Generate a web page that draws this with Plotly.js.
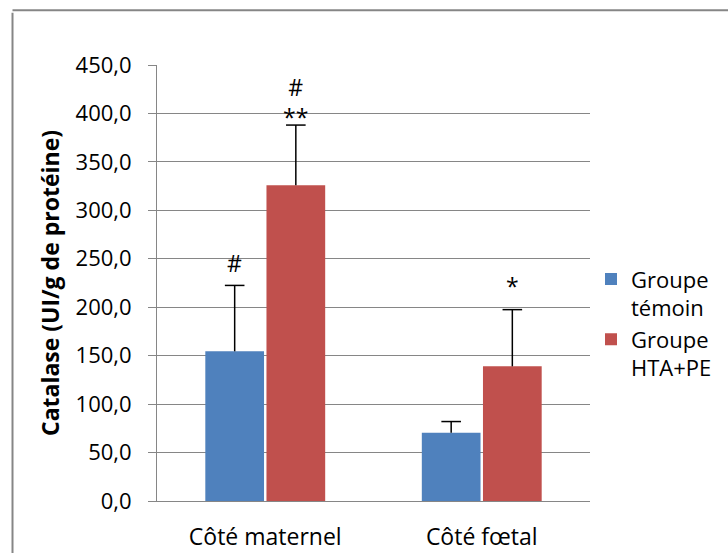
<!DOCTYPE html>
<html>
<head>
<meta charset="utf-8">
<script src="https://cdn.plot.ly/plotly-3.0.1.min.js"></script>
<style>
html,body{margin:0;padding:0;background:#fff;}
#chart{width:728px;height:553px;}
</style>
</head>
<body>
<div id="chart"></div>
<script>
const categories = ["Côté maternel", "Côté fœtal"];
const seriesNames = ["Groupe<br>témoin", "Groupe<br>HTA+PE"];
const temoinValues = [154.5, 70.5];
const temoinErrors = [68.0, 11.5];
const htaValues = [326.0, 139.0];
const htaErrors = [62.0, 58.5];
const yTicks = [0, 50, 100, 150, 200, 250, 300, 350, 400, 450];
const yTickLabels = ["0,0", "50,0", "100,0", "150,0", "200,0", "250,0", "300,0", "350,0", "400,0", "450,0"];
// significance marks: category index, series index, label, y value
const markCategory = [0, 0, 1];
const markSeries = [0, 1, 1];
const markText = ["#", "#<br>**", "*"];
const markY = [246, 412, 222];

const font = "Open Sans, sans-serif";
const blue = "#4f81bd";
const red = "#c0504d";
const bargap = 0.435;
const offset = (1 - bargap) / 4;

// error bars (upper only) drawn on an overlaid numeric axis matching category positions
function errorTrace(values, errors, sign) {
  const xs = [], ys = [], capX = [], capY = [];
  values.forEach((v, i) => {
    const xc = i + sign * offset;
    xs.push(xc, xc, null);
    ys.push(v, v + errors[i], null);
    capX.push(xc);
    capY.push(v + errors[i]);
  });
  return [
    {type: "scatter", mode: "lines", x: xs, y: ys, xaxis: "x2", yaxis: "y", showlegend: false, hoverinfo: "skip",
     line: {color: "#000", width: 1.5}},
    {type: "scatter", mode: "markers", x: capX, y: capY, xaxis: "x2", yaxis: "y", showlegend: false, hoverinfo: "skip",
     marker: {symbol: "line-ew", size: 14, line: {color: "#000", width: 1.5}}}
  ];
}

const traces = [
  {type: "bar", name: seriesNames[0], x: categories, y: temoinValues, marker: {color: blue}},
  {type: "bar", name: seriesNames[1], x: categories, y: htaValues, marker: {color: red}},
  ...errorTrace(temoinValues, temoinErrors, -1),
  ...errorTrace(htaValues, htaErrors, 1)
];

const annotations = markText.map((t, i) => ({
  xref: "x2", yref: "y",
  x: markCategory[i] + (markSeries[i] === 0 ? -offset : offset),
  y: markY[i], text: t, showarrow: false,
  font: {family: font, size: 23, color: "#000"}
}));

const layout = {
  width: 728, height: 553,
  paper_bgcolor: "#fff", plot_bgcolor: "#fff",
  margin: {l: 157, r: 137, t: 65, b: 52},
  barmode: "group", bargap: bargap, bargroupgap: 0.04,
  showlegend: true,
  legend: {
    x: 1.0, y: 0.557, xanchor: "left", yanchor: "top",
    font: {family: font, size: 22, color: "#000"},
    valign: "top", tracegroupgap: 4, itemwidth: 30
  },
  xaxis: {
    type: "category", showgrid: false, showline: true, linecolor: "#868686", linewidth: 1,
    ticks: "", tickfont: {family: font, size: 23, color: "#000"}, ticklabelstandoff: 15
  },
  xaxis2: {
    overlaying: "x", range: [-0.5, 1.5], visible: false, fixedrange: true
  },
  yaxis: {
    range: [0, 450], tickvals: yTicks, ticktext: yTickLabels,
    showgrid: true, gridcolor: "#868686", gridwidth: 1,
    showline: true, linecolor: "#868686", linewidth: 1,
    ticks: "outside", ticklen: 8, tickcolor: "#868686",
    tickfont: {family: font, size: 22, color: "#000"}, zeroline: false, ticklabelstandoff: 12,
    title: {text: "<b>Catalase (UI/g de protéine)</b>", font: {family: font, size: 23, color: "#000"}, standoff: 9}
  },
  annotations: annotations,
  shapes: [
    {type: "line", xref: "paper", yref: "paper", x0: -0.3337, x1: -0.3337, y0: 1.12, y1: -0.2, line: {color: "#868686", width: 2}},
    {type: "line", xref: "paper", yref: "paper", x0: -0.3337, x1: 1.4, y0: 1.1255, y1: 1.1255, line: {color: "#868686", width: 2}}
  ]
};

Plotly.newPlot("chart", traces, layout, {displayModeBar: false, staticPlot: true});
</script>
</body>
</html>
